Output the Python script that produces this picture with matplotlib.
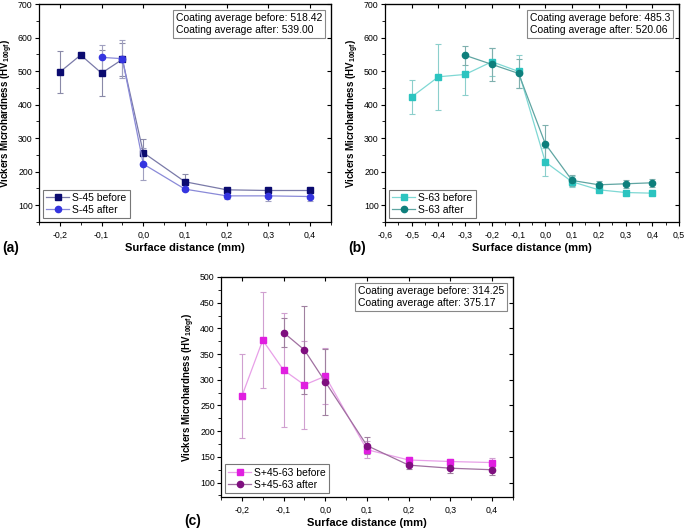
import matplotlib.pyplot as plt
from matplotlib.lines import Line2D
from matplotlib.ticker import MultipleLocator, FuncFormatter

plt.rcParams['font.family'] = ['Liberation Sans', 'DejaVu Sans']
plt.rcParams['mathtext.fontset'] = 'custom'
plt.rcParams['mathtext.rm'] = 'Liberation Sans'
plt.rcParams['mathtext.bf'] = 'Liberation Sans:bold'

# (a) S-45
a_before_x = [-0.2, -0.15, -0.1, -0.05, 0.0, 0.1, 0.2, 0.3, 0.4]
a_before_y = [497, 548, 494, 535, 257, 170, 146, 144, 144]
a_before_err = [62, 10, 69, 50, 41, 23, 6, 6, 6]
a_after_x = [-0.1, -0.05, 0.0, 0.1, 0.2, 0.3, 0.4]
a_after_y = [541, 537, 223, 148, 128, 128, 126]
a_after_err = [38, 57, 47, 6, 9, 16, 13]

# (b) S-63
b_before_x = [-0.5, -0.4, -0.3, -0.2, -0.1, 0.0, 0.1, 0.2, 0.3, 0.4]
b_before_y = [423, 483, 490, 528, 499, 229, 170, 146, 138, 136]
b_before_err = [50, 98, 60, 42, 50, 41, 17, 5, 4, 4]
b_after_x = [-0.3, -0.2, -0.1, 0.0, 0.1, 0.2, 0.3, 0.4]
b_after_y = [547, 520, 493, 283, 174, 161, 164, 167]
b_after_err = [28, 50, 42, 57, 17, 11, 12, 12]

# (c) S+45-63
c_before_x = [-0.2, -0.15, -0.1, -0.05, 0.0, 0.1, 0.2, 0.3, 0.4]
c_before_y = [268, 377, 319, 290, 307, 164, 144, 141, 139]
c_before_err = [82, 93, 110, 86, 54, 16, 5, 5, 8]
c_after_x = [-0.1, -0.05, 0.0, 0.1, 0.2, 0.3, 0.4]
c_after_y = [392, 358, 296, 172, 134, 128, 125]
c_after_err = [28, 85, 64, 16, 8, 10, 10]

fig = plt.figure(figsize=(6.85, 5.29), dpi=100)
ax_a = fig.add_axes([0.0569, 0.5803, 0.4263, 0.4121])
ax_b = fig.add_axes([0.5620, 0.5803, 0.4292, 0.4121])
ax_c = fig.add_axes([0.3226, 0.0605, 0.4263, 0.4159])

comma = FuncFormatter(lambda v, p: ('%.1f' % v).replace('.', ','))


def panel(ax, series, xlim, ylim, ystep, note, letter, ly):
    handles = []
    for x, y, e, c, ec, lc, m, lab in series:
        ax.errorbar(x, y, yerr=e, color=lc, ecolor=ec, elinewidth=0.8,
                    capsize=2, capthick=0.8, lw=0.9, marker=m, ms=4.5,
                    mfc=c, mec=c)
        handles.append(Line2D([], [], color=lc, lw=0.9, marker=m, ms=4.5,
                              mfc=c, mec=c, label=lab))
    ax.set_xlim(*xlim)
    ax.set_ylim(*ylim)
    ax.xaxis.set_major_locator(MultipleLocator(0.1))
    ax.xaxis.set_minor_locator(MultipleLocator(0.05))
    ax.yaxis.set_major_locator(MultipleLocator(ystep))
    ax.yaxis.set_minor_locator(MultipleLocator(ystep / 2))
    ax.xaxis.set_major_formatter(comma)
    ax.tick_params(labelsize=6.3, length=3, width=0.8, direction='out')
    ax.tick_params(axis='y', pad=1.5)
    ax.tick_params(which='minor', length=2, width=0.6, direction='out')
    sec = ax.secondary_xaxis('top')
    sec.xaxis.set_major_locator(MultipleLocator(0.1))
    sec.tick_params(direction='in', length=3, labeltop=False)
    sec2 = ax.secondary_yaxis('right')
    sec2.yaxis.set_major_locator(MultipleLocator(ystep))
    sec2.tick_params(direction='in', length=3, labelright=False)
    for s in ax.spines.values():
        s.set_linewidth(0.9)
    ax.set_xlabel('Surface distance (mm)', fontsize=8, fontweight='bold', labelpad=2)
    ax.set_ylabel('Vickers Microhardness (HV$_{\\mathbf{100gf}}$)', fontsize=7,
                  fontweight='bold')
    ax.yaxis.set_label_coords(-0.082, 0.5)
    ax.text(0.97, 0.96, note, transform=ax.transAxes, ha='right', va='top',
            multialignment='left', fontsize=7.5, linespacing=1.3,
            bbox=dict(boxstyle='square,pad=0.25', fc='white', ec='#888888', lw=0.8))
    leg = ax.legend(handles=handles, loc='lower left', fontsize=7.5, fancybox=False,
                    edgecolor='#555555', borderpad=0.3, handlelength=2.2,
                    handletextpad=0.3, borderaxespad=0.4, labelspacing=0.2)
    leg.get_frame().set_linewidth(0.8)
    ax.text(-0.125, ly, letter, transform=ax.transAxes, fontsize=10,
            fontweight='bold', va='center')


panel(ax_a, [
    (a_before_x, a_before_y, a_before_err, '#0b0b70', '#8a8aa8', '#7a7aa8', 's', 'S-45 before'),
    (a_after_x, a_after_y, a_after_err, '#3535e0', '#a0a0c0', '#8a8ad8', 'o', 'S-45 after'),
], (-0.25, 0.45), (50, 700), 100,
    'Coating average before: 518.42\nCoating average after: 539.00', '(a)', -0.12)

panel(ax_b, [
    (b_before_x, b_before_y, b_before_err, '#2cc4c0', '#8ccfcc', '#7fd8d4', 's', 'S-63 before'),
    (b_after_x, b_after_y, b_after_err, '#0e7f7c', '#7fb0ae', '#5fa5a2', 'o', 'S-63 after'),
], (-0.6, 0.5), (50, 700), 100,
    'Coating average before: 485.3\nCoating average after: 520.06', '(b)', -0.12)

panel(ax_c, [
    (c_before_x, c_before_y, c_before_err, '#e01fe0', '#d0a0d0', '#e8a0e8', 's', 'S+45-63 before'),
    (c_after_x, c_after_y, c_after_err, '#7f0f7f', '#a080a0', '#a070a0', 'o', 'S+45-63 after'),
], (-0.25, 0.45), (72, 500), 50,
    'Coating average before: 314.25\nCoating average after: 375.17', '(c)', -0.11)

fig.savefig('out.png', dpi=100)
